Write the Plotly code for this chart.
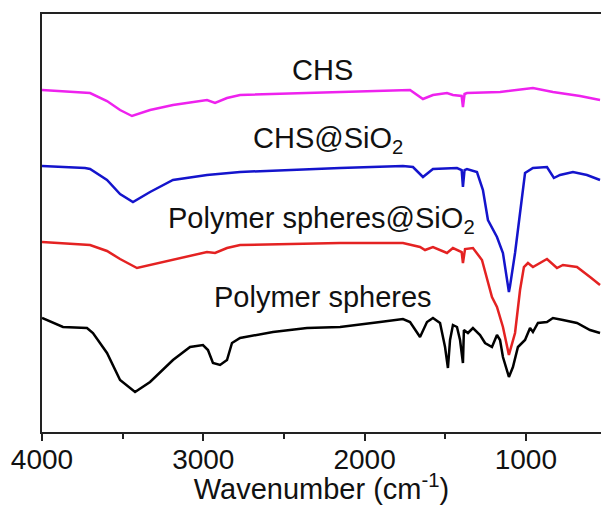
import plotly.graph_objects as go

# wavenumbers (cm-1) and offset transmittance values (a.u.)
chs_wn = [4000, 3702, 3597, 3516, 3442, 3330, 3188, 2977, 2927, 2853, 2772, 2152, 1780, 1718,
          1638, 1576, 1489, 1452, 1398, 1390, 1380, 1365, 1160, 1036, 956, 832, 664, 540]
chs_t = [342, 339, 331, 322, 316, 322, 327, 332, 329, 334, 337, 340, 342, 342,
         333, 337, 339, 337, 336, 325, 338, 339, 340, 342, 344, 340, 336, 332]

chssio_wn = [4000, 3733, 3702, 3597, 3516, 3436, 3330, 3188, 2977, 2772, 2152, 1762, 1700,
             1638, 1576, 1427, 1398, 1390, 1380, 1365, 1303, 1266, 1235, 1179, 1142, 1111,
             1105, 1098, 1067, 1036, 1005, 956, 869, 826, 788, 708, 621, 540]
chssio_t = [266, 264, 263, 252, 238, 230, 240, 252, 257, 260, 264, 266, 265,
            255, 263, 264, 262, 245, 262, 263, 260, 242, 212, 195, 179, 145,
            140, 146, 179, 219, 259, 264, 265, 254, 257, 260, 257, 252]

pssio_wn = [4000, 3702, 3597, 3516, 3411, 3188, 2977, 2927, 2853, 2772, 2152, 1762, 1656,
            1625, 1576, 1489, 1452, 1398, 1390, 1377, 1328, 1272, 1241, 1210, 1179, 1142,
            1105, 1067, 1036, 1012, 987, 956, 869, 807, 770, 683, 602, 540]
pssio_t = [190, 187, 181, 173, 164, 172, 180, 179, 184, 187, 189, 189, 185,
           182, 185, 179, 184, 180, 169, 183, 184, 172, 152, 135, 125, 105,
           77, 99, 142, 165, 169, 165, 173, 164, 167, 165, 155, 147]

ps_wn = [4000, 3870, 3721, 3684, 3597, 3516, 3423, 3330, 3188, 3082, 3002, 2971, 2940,
         2896, 2853, 2822, 2772, 2568, 2357, 2152, 1904, 1762, 1718, 1675, 1656, 1613,
         1576, 1532, 1501, 1483, 1470, 1452, 1427, 1408, 1390, 1384, 1359, 1328, 1284,
         1253, 1210, 1179, 1160, 1142, 1123, 1105, 1080, 1049, 1005, 974, 956, 925, 869,
         832, 770, 683, 602, 540]
ps_t = [114, 105, 104, 99, 79, 52, 40, 50, 72, 85, 87, 82, 69,
        67, 72, 89, 94, 100, 104, 105, 110, 113, 110, 99, 95, 110,
        114, 109, 85, 64, 92, 107, 105, 92, 69, 102, 99, 104, 97,
        89, 85, 97, 92, 75, 65, 55, 65, 85, 92, 104, 100, 109, 110,
        114, 112, 109, 102, 99]

series = [
    ("CHS", chs_wn, chs_t, "#EE22EE"),
    ("CHS@SiO<sub>2</sub>", chssio_wn, chssio_t, "#1414CC"),
    ("Polymer spheres@SiO<sub>2</sub>", pssio_wn, pssio_t, "#E42222"),
    ("Polymer spheres", ps_wn, ps_t, "#000000"),
]

label_x = [2258, 2227, 2264, 2258]
label_y = [362, 292, 212, 135]

FONT = "Liberation Sans, Arial, sans-serif"

fig = go.Figure()
for name, wn, t, col in series:
    fig.add_trace(go.Scatter(x=wn, y=t, mode="lines", name=name,
                             line=dict(color=col, width=2.5), showlegend=False))

for (name, _, _, _), lx, ly in zip(series, label_x, label_y):
    fig.add_annotation(x=lx, y=ly, xref="x", yref="y", text=name, showarrow=False,
                       font=dict(family=FONT, size=29, color="#111111"))

fig.update_layout(
    width=601, height=505,
    margin=dict(l=42, r=0, t=14, b=73),
    paper_bgcolor="white", plot_bgcolor="white",
    font=dict(family=FONT, size=28, color="#111111"),
)
fig.update_xaxes(
    range=[4000, 534], dtick=1000, tick0=0,
    showgrid=False, zeroline=False,
    showline=True, linecolor="#222222", linewidth=2, mirror=True,
    ticks="outside", ticklen=7, tickwidth=2, tickcolor="#222222",
    minor=dict(dtick=500, tick0=0, ticks="outside", ticklen=5, tickwidth=2, tickcolor="#222222"),
    tickfont=dict(family=FONT, size=28, color="#111111"),
    ticklabelstandoff=-6,
    title=dict(text="Wavenumber (cm<sup>-1</sup>)", standoff=4,
               font=dict(family=FONT, size=29, color="#111111")),
)
fig.update_yaxes(
    range=[0, 418], showgrid=False, zeroline=False, showticklabels=False, ticks="",
    showline=True, linecolor="#222222", linewidth=2, mirror=False,
)

fig.write_html("out.html")
